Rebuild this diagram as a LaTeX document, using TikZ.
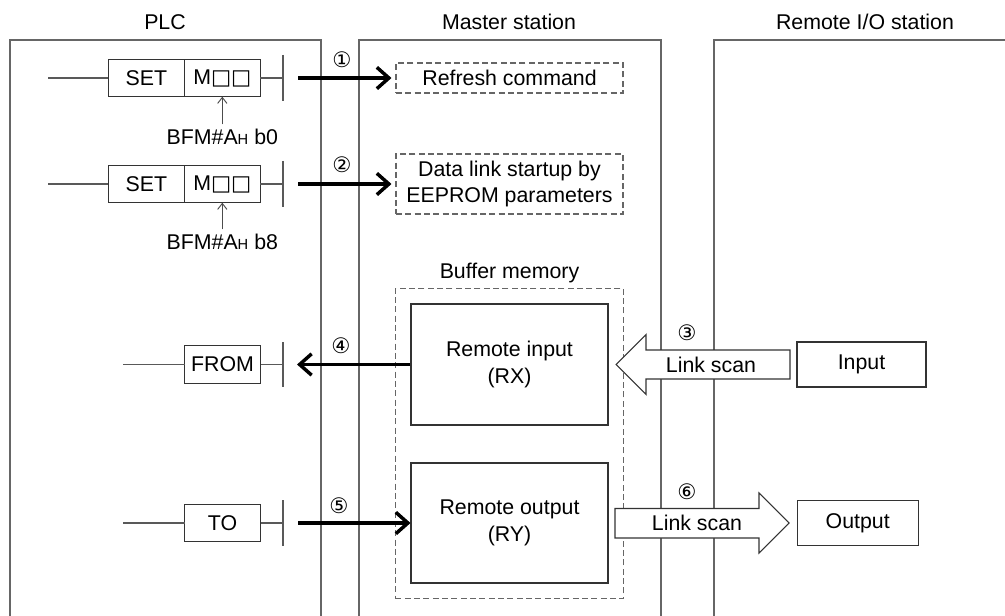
\documentclass[tikz,border=0pt]{standalone}
\usepackage{fontspec}
\setmainfont{Liberation Sans}
\newfontfamily\symfont{DejaVu Sans}
\usetikzlibrary{arrows.meta,positioning,fit}

\begin{document}
\begin{tikzpicture}[x=0.75pt, y=-0.75pt,
  font=\fontsize{16}{20}\selectfont,
  panel/.style={draw=black!60, line width=0.8pt},
  rung/.style={draw=black!65, line width=0.8pt},
  ladbox/.style={draw=black!80, line width=0.8pt, minimum width=57pt, minimum height=28pt, inner sep=0pt, outer sep=0pt},
  dbox/.style={draw=black!60, dash pattern=on 4.5pt off 2.5pt, line width=0.8pt, align=center, inner sep=0pt},
  mbox/.style={draw=black!80, line width=0.8pt, align=center, inner sep=0pt},
  num/.style={font=\symfont\fontsize{16}{16}\selectfont, inner sep=0pt},
  flow/.style={line width=2.6pt, -{Straight Barb[length=9pt,width=16pt]}},
  tick/.style={draw=black!70, line width=0.7pt, -{Straight Barb[length=4.5pt,width=7pt]}},
  blockarr/.style={draw=black!80, fill=white, line width=0.8pt}]
\useasboundingbox (0,0) rectangle (1005,616);

% stations
\draw[panel] (10,616) -- (10,40) -- (321,40) -- (321,616);
\draw[panel] (359,616) -- (359,40) -- (661,40) -- (661,616);
\draw[panel] (714,616) -- (714,40) -- (1005,40);
\node (tplc) at (165,22) {PLC};
\node (tmst) at (509,22) {Master station};
\node (trio) at (865,22) {Remote I/O station};

% PLC program
\node[ladbox] (set1) at (146.3,78) {SET};
\node[ladbox, right=0pt of set1] (mm1) {M{\symfont □□}};
\coordinate (l1) at (48,78);
\coordinate (b1) at (283,78);
\draw[rung] (l1) -- (set1) (mm1) -- (b1) (283,55) -- (283,101);
\node (bfm1) at (222.3,137) {BFM\#A{\fontsize{11}{11}\selectfont H} b0};
\draw[tick] (bfm1) -- (mm1);

\node[ladbox] (set2) at (146.3,184) {SET};
\node[ladbox, right=0pt of set2] (mm2) {M{\symfont □□}};
\coordinate (l2) at (48,184);
\coordinate (b2) at (283,184);
\draw[rung] (l2) -- (set2) (mm2) -- (b2) (283,161) -- (283,207);
\node (bfm2) at (222.3,242) {BFM\#A{\fontsize{11}{11}\selectfont H} b8};
\draw[tick] (bfm2) -- (mm2);

\node[ladbox] (from) at (222.5,364.5) {FROM};
\coordinate (l3) at (123,364.5);
\coordinate (b3) at (283,364.5);
\draw[rung] (l3) -- (from) (from) -- (b3) (283,342) -- (283,387);

\node[ladbox] (to) at (222.5,523) {TO};
\coordinate (l4) at (123,523);
\coordinate (b4) at (283,523);
\draw[rung] (l4) -- (to) (to) -- (b4) (283,500) -- (283,546);

% master station
\node[dbox, minimum width=170.25pt, minimum height=22.5pt] (refresh) at (509.5,78) {Refresh command};
\node[dbox, minimum width=170.25pt, minimum height=45pt] (dlink) at (509.5,184) {Data link startup by\\EEPROM parameters};
\node[mbox, minimum width=147.75pt, minimum height=90.75pt] (rin) at (509.5,364.5) {Remote input\\(RX)};
\node[mbox, minimum width=147.75pt, minimum height=90pt] (rout) at (509.5,523) {Remote output\\(RY)};
\node[dbox, fit=(rin)(rout), inner sep=11.25pt] (buf) {};
\node (bufl) at (509.5,273) {Buffer memory};

% remote I/O station
\node[mbox, minimum width=96.75pt, minimum height=33.75pt] (inp) at (861.5,364.5) {Input};
\node[mbox, minimum width=90.75pt, minimum height=33.75pt] (outp) at (857.7,523) {Output};

% transfers
\coordinate (s1) at (298,78);
\coordinate (s2) at (298,184);
\coordinate (s4) at (297,364.5);
\coordinate (s5) at (298,523);
\draw[flow, shorten >=3pt] (s1) -- (refresh);
\draw[flow, shorten >=3pt] (s2) -- (dlink);
\draw[flow] (rin) -- (s4);
\draw[flow] (s5) -- (rout);

\draw[blockarr] (616,364.5) -- (646,334.5) -- (646,350) -- (790,350) -- (790,379) -- (646,379) -- (646,394.5) -- cycle;
\node (ls3) at (711,364.5) {Link scan};
\draw[blockarr] (615,508.5) -- (759,508.5) -- (759,493) -- (789,523) -- (759,553) -- (759,538) -- (615,538) -- cycle;
\node (ls6) at (697,523) {Link scan};

\node[num] (n1) at (342,60) {①};
\node[num] (n2) at (342,165) {②};
\node[num] (n3) at (687,333) {③};
\node[num] (n4) at (341,346) {④};
\node[num] (n5) at (339,506) {⑤};
\node[num] (n6) at (687,492) {⑥};
\end{tikzpicture}
\end{document}
